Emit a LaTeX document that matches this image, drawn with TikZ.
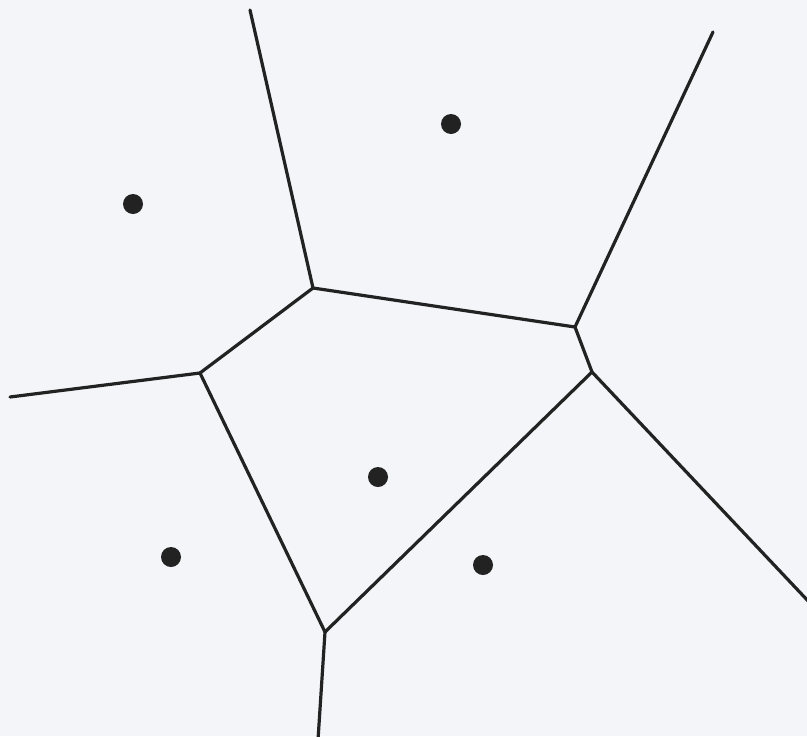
\documentclass[tikz,border=0pt]{standalone}
\definecolor{paper}{HTML}{F3F5F9}
\definecolor{ink}{HTML}{222222}
\begin{document}
\begin{tikzpicture}[x=0.75pt,y=-0.75pt,
  edge/.style={draw=ink,line width=2.4pt,line join=round,line cap=round},
  site/.style={circle,fill=ink,inner sep=0pt,minimum size=15pt}]
\fill[paper] (0,0) rectangle (807,736);
\useasboundingbox (0,0) rectangle (807,736);
% Voronoi vertices
\coordinate (A) at (313,288);
\coordinate (B) at (575,327);
\coordinate (C) at (592,372);
\coordinate (D) at (325,632);
\coordinate (E) at (200,373);
% ray ends
\coordinate (tA) at (250,10);
\coordinate (tB) at (713,32);
\coordinate (tC) at (810,603);
\coordinate (tD) at (318,740);
\coordinate (tE) at (10,397);
\draw[edge] (A) -- (B) -- (C) -- (D) -- (E) -- cycle;
\draw[edge] (A) -- (tA);
\draw[edge] (B) -- (tB);
\draw[edge] (C) -- (tC);
\draw[edge] (D) -- (tD);
\draw[edge] (E) -- (tE);
% sites
\node[site] (s1) at (451,124) {};
\node[site] (s2) at (133,204) {};
\node[site] (s3) at (378,477) {};
\node[site] (s4) at (171,557) {};
\node[site] (s5) at (483,565) {};
\end{tikzpicture}
\end{document}
